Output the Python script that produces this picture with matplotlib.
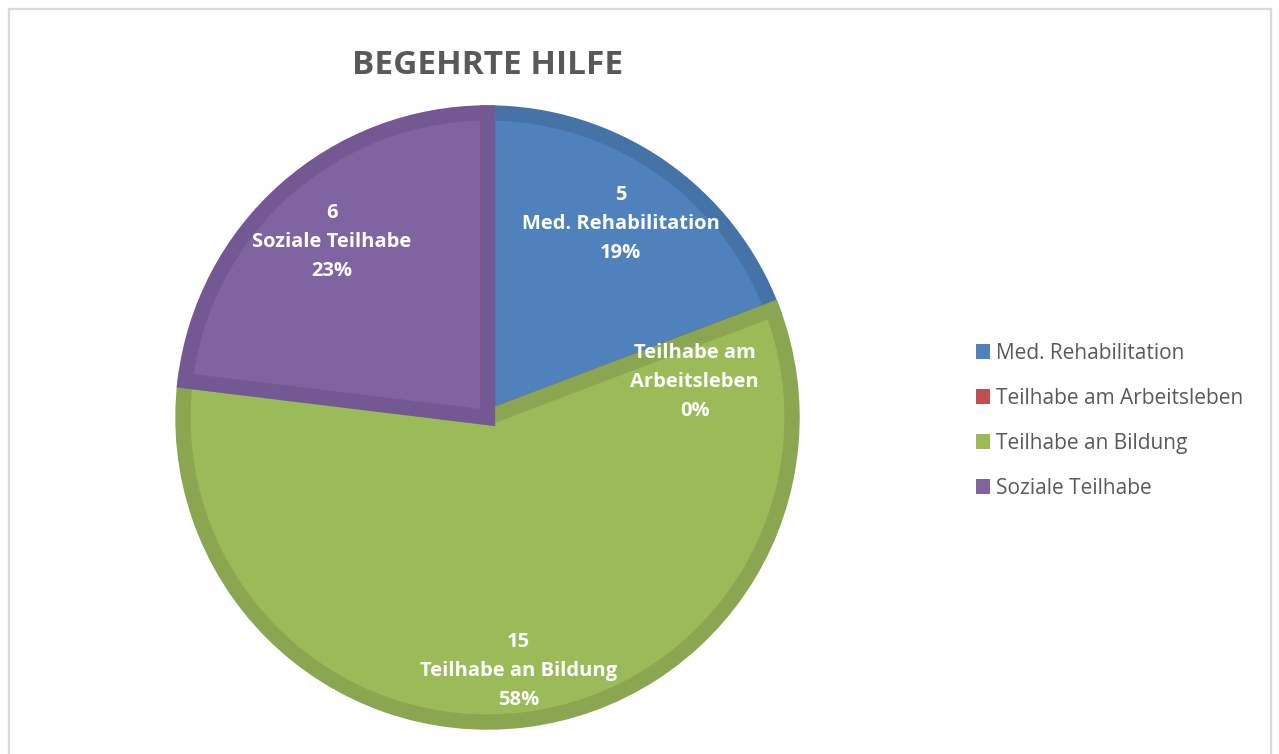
import numpy as np
import matplotlib
matplotlib.use("Agg")
import matplotlib.pyplot as plt
from matplotlib.patches import Patch, Rectangle

# ------------------- Data -------------------
categories = ["Med. Rehabilitation", "Teilhabe am Arbeitsleben",
              "Teilhabe an Bildung", "Soziale Teilhabe"]
values = [5, 0, 15, 6]
label_names = ["Med. Rehabilitation", "Teilhabe am\nArbeitsleben",
               "Teilhabe an Bildung", "Soziale Teilhabe"]
colors = ["#4F81BD", "#C0504D", "#9BBB59", "#8064A2"]
edge_colors = ["#4572A7", "#A9443F", "#8AA650", "#735893"]
title = "BEGEHRTE HILFE"

plt.rcParams['font.family'] = ['Open Sans', 'DejaVu Sans']

fig = plt.figure(figsize=(12.79, 7.54), dpi=100)

# outer frame like the office chart border
fig.patches.append(Rectangle((9 / 1279, -0.05), 1262 / 1279, 1.05 - 9 / 754,
                             transform=fig.transFigure, fill=False,
                             edgecolor="#D9D9D9", linewidth=1.6))

ax = fig.add_axes([175 / 1279, 24 / 754, 625 / 1279, 625 / 754])
wedges, _ = ax.pie(values, colors=colors, startangle=90, counterclock=False,
                   radius=1.0)
lim = 1.026
ax.set_xlim(-lim, lim)
ax.set_ylim(-lim, lim)
ax.set_aspect("equal")
ax.axis("off")

# darker inner border per slice
for w, ec in zip(wedges, edge_colors):
    w.set_edgecolor(ec)
    w.set_linewidth(11)
    w.set_clip_path(w)

# data labels
total = sum(values)
label_r = [0.77, 0.69, 0.84, 0.77]
label_shift = [0, -11, 0, 0]  # degrees, Excel nudges the empty slice label
for w, v, name, r, sh in zip(wedges, values, label_names, label_r, label_shift):
    ang = np.deg2rad((w.theta1 + w.theta2) / 2 + sh)
    pct = f"{v / total * 100:.0f}%"
    txt = f"{name}\n{pct}" if v == 0 else f"{v}\n{name}\n{pct}"
    ax.text(r * np.cos(ang), r * np.sin(ang), txt, ha="center", va="center",
            color="white", fontsize=14.5, fontweight="bold", linespacing=1.6)

fig.text(488 / 1279, 1 - 66 / 754, title, ha="center", va="center",
         fontsize=24, fontweight="bold", color="#595959")

handles = [Patch(facecolor=c, edgecolor="none") for c in colors]
fig.legend(handles, categories, loc="center left",
           bbox_to_anchor=(957 / 1279, 1 - 421 / 754), frameon=False,
           fontsize=15, labelcolor="#595959", handlelength=0.7,
           handleheight=0.7, handletextpad=0.25, labelspacing=1.15)

fig.savefig("out.png", dpi=100)
